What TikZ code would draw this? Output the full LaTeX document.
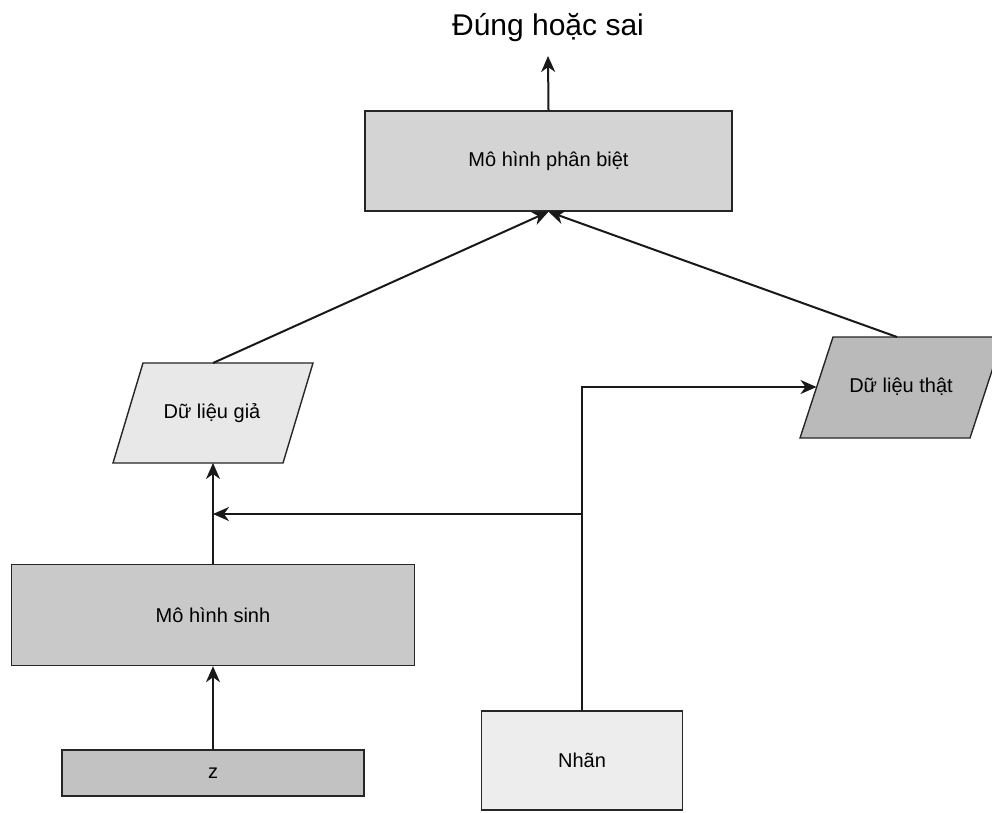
\documentclass[tikz,border=0pt]{standalone}
\usepackage{fontspec}
\setmainfont{Liberation Sans}
\usetikzlibrary{arrows.meta}
\begin{document}
\begin{tikzpicture}[x=1pt,y=-1pt,
  box/.style={draw=black!85,line width=1.4pt,inner sep=0pt,font=\fontsize{20}{24}\selectfont},
  para/.style={draw=black!85,line width=1.4pt},
  arr/.style={line width=2pt,draw=black!90,-{Stealth[length=16pt,width=14pt,inset=5pt]}},
  ln/.style={line width=2pt,draw=black!90}]
\useasboundingbox (0,0) rectangle (992,812);
\clip (0,0) rectangle (992,812);
\fill[white] (0,0) rectangle (992,812);

% title
\node[font=\fontsize{30}{36}\selectfont] (title) at (548,28) {Đúng hoặc sai};
\coordinate (titlein) at (548,56);

% boxes
\node[box,fill=black!17,minimum width=367pt,minimum height=100pt] (disc) at (548.5,161) {Mô hình phân biệt};
\node[box,fill=black!21,minimum width=403pt,minimum height=101pt] (gen) at (213,615) {Mô hình sinh};
\node[box,fill=black!24,minimum width=302pt,minimum height=46pt] (z) at (213,773) {z};
\node[box,fill=black!7,minimum width=201pt,minimum height=99pt] (lab) at (582,760.5) {Nhãn};

% fake data parallelogram
\coordinate (fTL) at (143,363); \coordinate (fTR) at (313,363);
\coordinate (fBR) at (283,463); \coordinate (fBL) at (113,463);
\draw[para,fill=black!9] (fTL) -- (fTR) -- (fBR) -- (fBL) -- cycle;
\node[font=\fontsize{20}{24}\selectfont] (fake) at (212,413) {Dữ liệu giả};
\coordinate (fakeTop) at (213,363);
\coordinate (fakeBot) at (213,463);

% real data parallelogram
\coordinate (rTL) at (833,337); \coordinate (rTR) at (1003,337);
\coordinate (rBR) at (970,438); \coordinate (rBL) at (800,438);
\draw[para,fill=black!27] (rTL) -- (rTR) -- (rBR) -- (rBL) -- cycle;
\node[font=\fontsize{20}{24}\selectfont] (real) at (901,387) {Dữ liệu thật};
\coordinate (realTop) at (897,337);
\coordinate (realLeft) at (816.5,387);

% connectors
\draw[arr] (disc.north) -- (titlein);
\draw[arr] (fakeTop) -- (disc.south);
\draw[arr] (realTop) -- (disc.south);
\draw[arr] (z.north) -- (gen.south);
\draw[arr] (gen.north) -- (fakeBot);
\coordinate (j) at (582,514);
\coordinate (jl) at (213,514);
\draw[arr,line join=miter] (lab.north) -- (lab.north |- realLeft) -- (realLeft);
\draw[arr] (j) -- (jl);
\end{tikzpicture}
\end{document}
